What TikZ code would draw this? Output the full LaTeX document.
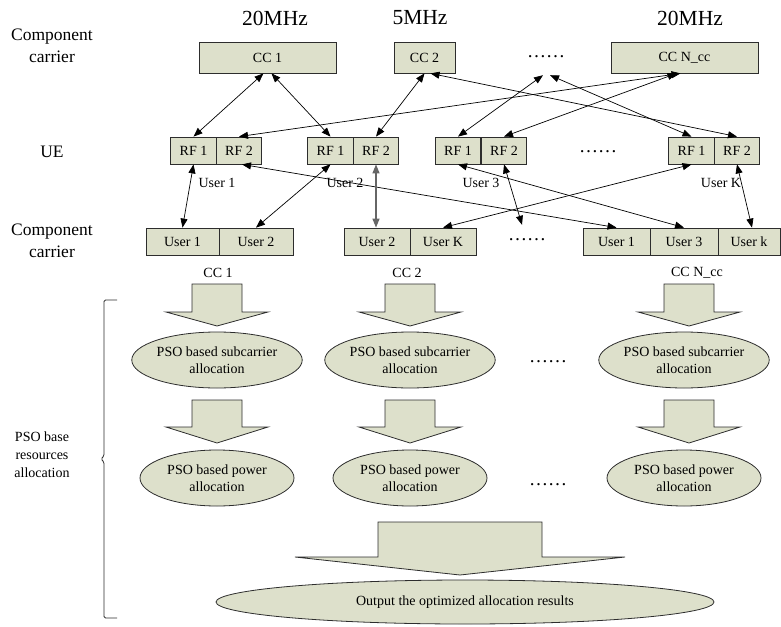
\documentclass[tikz,border=0pt]{standalone}
\usepackage{fontspec}
\setmainfont{Liberation Serif}
\usetikzlibrary{arrows.meta,shapes.geometric}
\definecolor{boxfill}{RGB}{221,224,203}
\definecolor{edge}{RGB}{45,45,45}

% block arrow pointing down: centre x, top, shoulder, tip, shaft half width, head half width
\newcommand\flowarrow[6]{%
  \filldraw[flow] (#1-#5,#2) -- (#1+#5,#2) -- (#1+#5,#3) -- (#1+#6,#3)
    -- (#1,#4) -- (#1-#6,#3) -- (#1-#5,#3) -- cycle;}

\begin{document}
\begin{tikzpicture}[x=1pt,y=-1pt,
  cell/.style={draw=edge, fill=boxfill, line width=0.8pt, inner sep=0pt,
    minimum height=27pt, font=\fontsize{14}{16}\selectfont},
  ell/.style={ellipse, draw=edge, fill=boxfill, line width=0.8pt, inner sep=0pt,
    minimum width=154pt, minimum height=56pt, align=center,
    font=\fontsize{14}{16.5}\selectfont},
  rowlabel/.style={align=center, font=\fontsize{17.5}{22}\selectfont},
  bandlabel/.style={font=\fontsize{21.5}{24}\selectfont},
  small/.style={font=\fontsize{14}{16}\selectfont},
  dots/.style={inner sep=0pt, font=\fontsize{19}{20}\selectfont},
  conn/.style={<->, >={Triangle[length=9pt,width=7pt]}, line width=0.7pt, black},
  flow/.style={draw=edge, fill=boxfill, line width=0.8pt, line join=miter}
]
\useasboundingbox (0,0) rectangle (781,626);

% row titles and bandwidths
\node[rowlabel] (ttop) at (52,46) {Component\\carrier};
\node[rowlabel] (tue) at (52,152) {UE};
\node[rowlabel] (tlow) at (52,241) {Component\\carrier};
\node[bandlabel] (bw1) at (275,18) {20MHz};
\node[bandlabel] (bw2) at (420,18) {5MHz};
\node[bandlabel] (bw3) at (690,18) {20MHz};

% component carriers
\node[cell, minimum width=137pt, minimum height=31pt] (cc1) at (267.5,57.5) {CC 1};
\node[cell, minimum width=61pt, minimum height=31pt] (cc2) at (424.5,57.5) {CC 2};
\node[cell, minimum width=147pt, minimum height=31pt] (ccn) at (684.5,57.5) {CC N\_cc};
\node[dots, minimum height=36pt] (dtop) at (546,57) {……};

% RF chains of the user equipment
\node[cell, minimum width=45.5pt] (rf11) at (193.5,150.5) {RF 1};
\node[cell, minimum width=45.5pt] (rf12) at (239,150.5) {RF 2};
\node[cell, minimum width=45.5pt] (rf21) at (330.5,150.5) {RF 1};
\node[cell, minimum width=45.5pt] (rf22) at (376,150.5) {RF 2};
\node[cell, minimum width=45.5pt] (rf31) at (458,150.5) {RF 1};
\node[cell, minimum width=45.5pt] (rf32) at (504,150.5) {RF 2};
\node[cell, minimum width=45.5pt] (rf41) at (691.5,150.5) {RF 1};
\node[cell, minimum width=45.5pt] (rf42) at (737,150.5) {RF 2};
\node[dots] (drf) at (598,152) {……};

\node[small] (lu1) at (217,183) {User 1};
\node[small] (lu2) at (345,183) {User 2};
\node[small] (lu3) at (481,183) {User 3};
\node[small] (luk) at (721,183) {User K};

% users scheduled on each carrier
\node[cell, minimum width=73pt] (u11) at (182.5,241.5) {User 1};
\node[cell, minimum width=74pt] (u12) at (256,241.5) {User 2};
\node[cell, minimum width=66pt] (u22) at (377,241.5) {User 2};
\node[cell, minimum width=66pt] (u2k) at (443,241.5) {User K};
\node[cell, minimum width=67pt] (u31) at (616.5,241.5) {User 1};
\node[cell, minimum width=68pt] (u33) at (684,241.5) {User 3};
\node[cell, minimum width=62pt] (u3k) at (749,241.5) {User k};
\node[dots, minimum height=30pt] (dusr) at (527,240) {……};

\node[small] (lc1) at (218,273) {CC 1};
\node[small] (lc2) at (407,273) {CC 2};
\node[small] (lcn) at (697,273) {CC N\_cc};

% carrier to RF links
\draw[conn] ([xshift=-4pt]cc1.south) -- (rf11.north);
\draw[conn] ([xshift=4pt]cc1.south) -- (rf21.north);
\draw[conn] (cc2.south) -- (rf22.north);
\draw[conn] ([xshift=6pt]cc2.south) -- (rf42.north);
\draw[conn] ([xshift=-4pt]ccn.south) -- (rf12.north);
\draw[conn] ([xshift=-8pt]ccn.south) -- (rf32.north);
\draw[conn] ([xshift=-3pt]dtop.south) -- (rf31.north);
\draw[conn] ([xshift=4pt]dtop.south) -- (rf41.north);

% RF to scheduled user links
\draw[conn] (rf11.south) -- (u11.north);
\draw[conn] (rf21.south) -- (u12.north);
\draw[conn] ([xshift=3pt]rf12.south) -- (u31.north);
\draw[conn, draw=black!60, line width=1.3pt] (rf22.south) -- ([xshift=-1pt]u22.north);
\draw[conn] (rf31.south) -- (u33.north);
\draw[conn] (rf32.south) -- ([xshift=-5pt]dusr.north);
\draw[conn] (rf41.south) -- (u2k.north);
\draw[conn] (rf42.south) -- ([xshift=3pt]u3k.north);

% resource allocation per carrier
\flowarrow{217}{284}{312}{326}{25}{51}
\flowarrow{410}{284}{312}{326}{25}{51}
\flowarrow{689}{284}{312}{326}{25}{51}
\node[ell] (s1) at (217,360) {PSO based subcarrier\\allocation};
\node[ell] (s2) at (410,360) {PSO based subcarrier\\allocation};
\node[ell] (s3) at (684,360) {PSO based subcarrier\\allocation};
\node[dots] (ds) at (548,362) {……};

\flowarrow{217}{400}{427}{443}{25}{51}
\flowarrow{410}{400}{427}{443}{25}{51}
\flowarrow{689}{400}{427}{443}{25}{51}
\node[ell] (p1) at (217,478) {PSO based power\\allocation};
\node[ell] (p2) at (410,478) {PSO based power\\allocation};
\node[ell] (p3) at (684,478) {PSO based power\\allocation};
\node[dots] (dp) at (548,485) {……};

\flowarrow{460}{522}{557}{575}{82}{165}
\node[ell, minimum width=498pt, minimum height=44pt] (out) at (465,602)
  {Output the optimized allocation results};

% bracket spanning the allocation stages
\draw[edge, line width=0.8pt, rounded corners=1.5pt]
  (117,300) -- (104,300) -- (104,456) -- (101,459) -- (104,462) -- (104,618) -- (117,618);
\node[align=center, font=\fontsize{14}{18}\selectfont] (tpso) at (42,455)
  {PSO base\\resources\\allocation};
\end{tikzpicture}
\end{document}
